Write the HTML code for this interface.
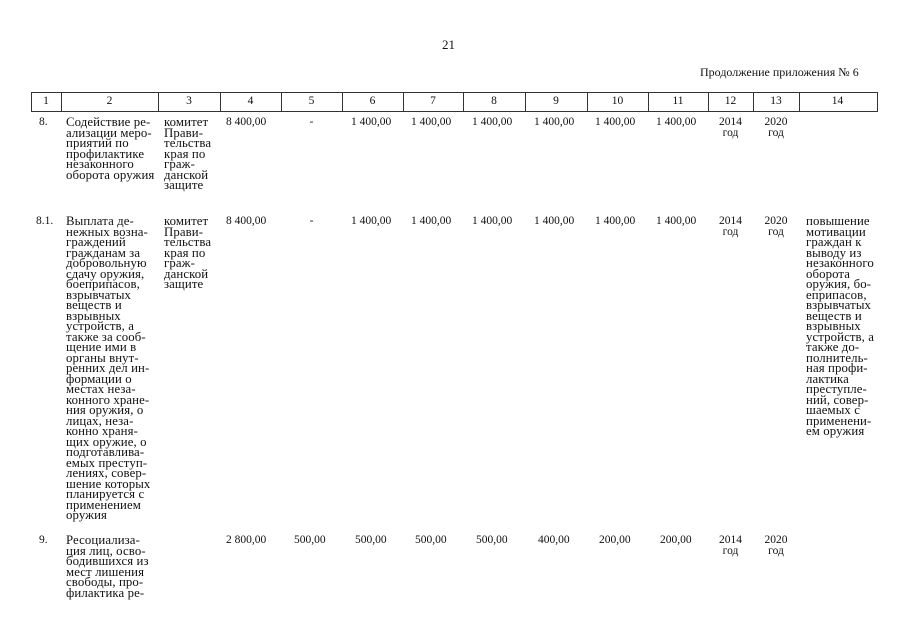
<!DOCTYPE html>
<html><head><meta charset="utf-8"><style>
body{margin:0;width:905px;height:640px;background:#fff;overflow:hidden;position:relative;font-family:"Liberation Serif",serif;color:#111;}
.t{position:absolute;font-size:11.5px;line-height:10.5px;white-space:pre;}
.w{font-size:12.8px;letter-spacing:0.1px;}
.c{text-align:center;}
.v{position:absolute;background:#333;width:1px;top:92px;height:19px;}
</style></head><body>
<div class="t" style="left:442px;top:40px;font-size:13px">21</div>
<div class="t" style="left:700px;top:67px;font-size:12px">Продолжение приложения № 6</div>
<div style="position:absolute;left:31px;top:92px;width:845px;height:18px;border:1px solid #333"></div>
<div class="v" style="left:61px"></div><div class="v" style="left:158px"></div><div class="v" style="left:220px"></div><div class="v" style="left:281px"></div><div class="v" style="left:342px"></div><div class="v" style="left:403px"></div><div class="v" style="left:463px"></div><div class="v" style="left:525px"></div><div class="v" style="left:587px"></div><div class="v" style="left:648px"></div><div class="v" style="left:708px"></div><div class="v" style="left:753px"></div><div class="v" style="left:799px"></div>
<div class="t c" style="left:31px;width:30px;top:96px">1</div>
<div class="t c" style="left:61px;width:97px;top:96px">2</div>
<div class="t c" style="left:158px;width:62px;top:96px">3</div>
<div class="t c" style="left:220px;width:61px;top:96px">4</div>
<div class="t c" style="left:281px;width:61px;top:96px">5</div>
<div class="t c" style="left:342px;width:61px;top:96px">6</div>
<div class="t c" style="left:403px;width:60px;top:96px">7</div>
<div class="t c" style="left:463px;width:62px;top:96px">8</div>
<div class="t c" style="left:525px;width:62px;top:96px">9</div>
<div class="t c" style="left:587px;width:61px;top:96px">10</div>
<div class="t c" style="left:648px;width:60px;top:96px">11</div>
<div class="t c" style="left:708px;width:45px;top:96px">12</div>
<div class="t c" style="left:753px;width:46px;top:96px">13</div>
<div class="t c" style="left:799px;width:77px;top:96px">14</div>

<!-- row 8 -->
<div class="t" style="left:39px;top:117px">8.</div>
<div class="t w" style="left:66px;top:117px">Содействие ре-
ализации меро-
приятий по
профилактике
незаконного
оборота оружия</div>
<div class="t w" style="left:164px;top:117px">комитет
Прави-
тельства
края по
граж-
данской
защите</div>
<div class="t" style="left:226px;top:117px">8 400,00</div>
<div class="t c" style="left:281px;width:61px;top:117px">-</div>
<div class="t" style="left:351px;top:117px">1 400,00</div>
<div class="t" style="left:411px;top:117px">1 400,00</div>
<div class="t" style="left:472px;top:117px">1 400,00</div>
<div class="t" style="left:534px;top:117px">1 400,00</div>
<div class="t" style="left:595px;top:117px">1 400,00</div>
<div class="t" style="left:656px;top:117px">1 400,00</div>
<div class="t c" style="left:708px;width:45px;top:117px">2014
год</div>
<div class="t c" style="left:753px;width:46px;top:117px">2020
год</div>

<!-- row 8.1 -->
<div class="t" style="left:36px;top:216px">8.1.</div>
<div class="t w" style="left:66px;top:216px">Выплата де-
нежных возна-
граждений
гражданам за
добровольную
сдачу оружия,
боеприпасов,
взрывчатых
веществ и
взрывных
устройств, а
также за сооб-
щение ими в
органы внут-
ренних дел ин-
формации о
местах неза-
конного хране-
ния оружия, о
лицах, неза-
конно храня-
щих оружие, о
подготавлива-
емых преступ-
лениях, совер-
шение которых
планируется с
применением
оружия</div>
<div class="t w" style="left:164px;top:216px">комитет
Прави-
тельства
края по
граж-
данской
защите</div>
<div class="t" style="left:226px;top:216px">8 400,00</div>
<div class="t c" style="left:281px;width:61px;top:216px">-</div>
<div class="t" style="left:351px;top:216px">1 400,00</div>
<div class="t" style="left:411px;top:216px">1 400,00</div>
<div class="t" style="left:472px;top:216px">1 400,00</div>
<div class="t" style="left:534px;top:216px">1 400,00</div>
<div class="t" style="left:595px;top:216px">1 400,00</div>
<div class="t" style="left:656px;top:216px">1 400,00</div>
<div class="t c" style="left:708px;width:45px;top:216px">2014
год</div>
<div class="t c" style="left:753px;width:46px;top:216px">2020
год</div>
<div class="t w" style="left:806px;top:216px">повышение
мотивации
граждан к
выводу из
незаконного
оборота
оружия, бо-
еприпасов,
взрывчатых
веществ и
взрывных
устройств, а
также до-
полнитель-
ная профи-
лактика
преступле-
ний, совер-
шаемых с
применени-
ем оружия</div>

<!-- row 9 -->
<div class="t" style="left:39px;top:535px">9.</div>
<div class="t w" style="left:66px;top:535px">Ресоциализа-
ция лиц, осво-
бодившихся из
мест лишения
свободы, про-
филактика ре-</div>
<div class="t" style="left:226px;top:535px">2 800,00</div>
<div class="t" style="left:294px;top:535px">500,00</div>
<div class="t" style="left:355px;top:535px">500,00</div>
<div class="t" style="left:415px;top:535px">500,00</div>
<div class="t" style="left:476px;top:535px">500,00</div>
<div class="t" style="left:538px;top:535px">400,00</div>
<div class="t" style="left:599px;top:535px">200,00</div>
<div class="t" style="left:660px;top:535px">200,00</div>
<div class="t c" style="left:708px;width:45px;top:535px">2014
год</div>
<div class="t c" style="left:753px;width:46px;top:535px">2020
год</div>
</body></html>
